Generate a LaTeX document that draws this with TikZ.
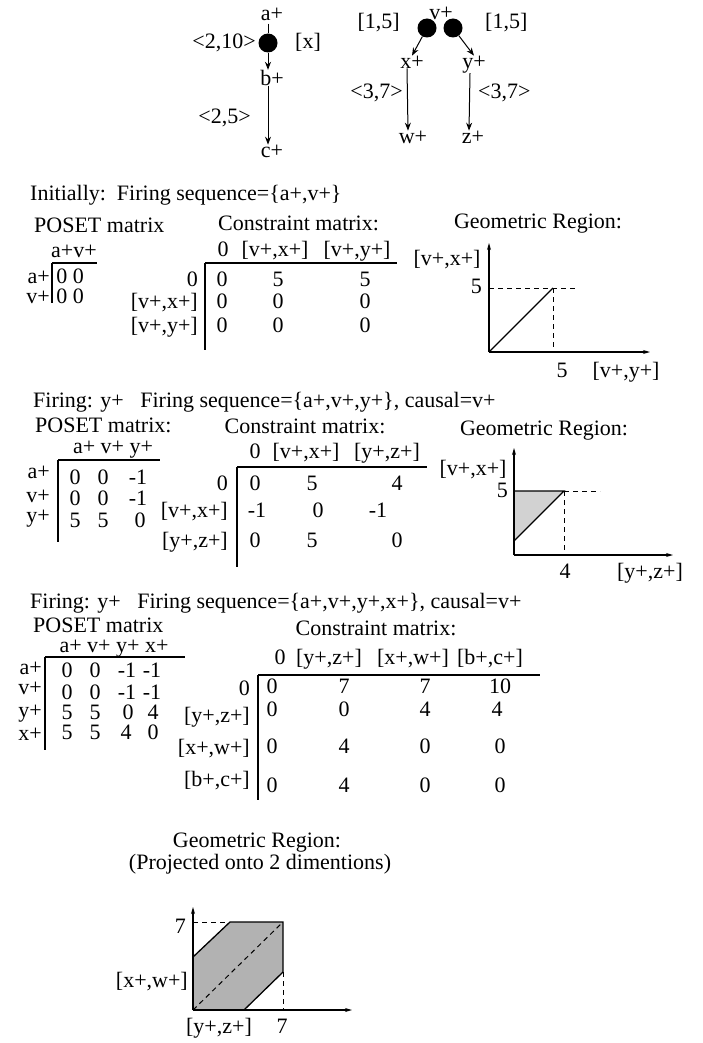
\documentclass[tikz,border=0pt]{standalone}
\usepackage{fontspec}
\setmainfont{Liberation Serif}
\usetikzlibrary{arrows.meta,positioning}
\newcommand{\regFont}{\fontsize{22}{24}\selectfont}
\tikzset{
  regText/.style={
    inner sep=0pt,
    anchor=mid,
    yshift=-3pt,
    font=\regFont
  },
  regTextW/.style={regText, anchor=mid west},
  regTextE/.style={regText, anchor=mid east},
  regDot/.style={
    circle,
    fill=black,
    minimum size=19pt,
    inner sep=0pt
  },
  regArrow/.style={
    -{Stealth[length=8pt,width=6pt]},
    line width=1pt
  },
  regRule/.style={line width=1.3pt},
  regAxis/.style={
    -{Stealth[length=7pt,width=4pt]},
    line width=1.5pt
  },
  regGuide/.style={line width=1pt, dash pattern=on 5pt off 4pt},
  regEdge/.style={line width=1.3pt},
  regShade/.style={fill=gray!35},
  regShadeDark/.style={fill=gray!60}
}

\begin{document}
\begin{tikzpicture}[x=1pt, y=-1pt]
  \useasboundingbox (0,0) rectangle (702,1043);

  % timed event graph
  \node[regText] (aPlus) at (272,15) {a+};
  \node[regDot] (aDot) at (268,43) {};
  \node[regText] (bPlus) at (272,80) {b+};
  \node[regText] (cPlus) at (272,152) {c+};
  \node[regTextE] (aDelay) at (256,43) {<2,10>};
  \node[regTextW] (aCond) at (295,43) {[x]};
  \node[regTextE] (bDelay) at (251,118) {<2,5>};

  \draw[line width=1pt, shorten <=3pt] (aPlus.south -| aDot) -- (aDot);
  \draw[regArrow] (aDot) -- (aDot |- bPlus.north);
  \draw[regArrow] (aDot |- bPlus.south) -- (aDot |- cPlus.north);

  \node[regText] (vPlus) at (441,14) {v+};
  \node[regDot] (vDotL) at (427,28) {};
  \node[regDot] (vDotR) at (453,28) {};
  \node[regText] (xPlus) at (412,63) {x+};
  \node[regText] (yPlus) at (474,63) {y+};
  \node[regText] (wPlus) at (413,138) {w+};
  \node[regText] (zPlus) at (473,138) {z+};
  \node[regTextE] (xBound) at (400,23) {[1,5]};
  \node[regTextW] (yBound) at (485,23) {[1,5]};
  \node[regTextE] (wDelay) at (403,93) {<3,7>};
  \node[regTextW] (zDelay) at (478,93) {<3,7>};

  \draw[regArrow] (vDotL) -- (xPlus.north);
  \draw[regArrow] (vDotR) -- (yPlus.north);
  \draw[regArrow] ([xshift=-5pt]xPlus.south) -- ([xshift=-5pt]wPlus.north);
  \draw[regArrow] ([xshift=-4pt]yPlus.south) -- ([xshift=-4pt]zPlus.north);

  % initial state
  \node[regTextW] (initLine) at (30,195) {Initially:\ \ Firing sequence=\{a+,v+\}};
  \node[regTextW] (posetA) at (34,227) {POSET matrix};
  \node[regTextW] (consA) at (218,225) {Constraint matrix:};
  \node[regText] (geoA) at (538,223) {Geometric Region:};

  \node[regText] (posetAHead) at (74,252) {a+v+};
  \draw[regRule] (52,263) -- (97,263);
  \draw[regRule] (52,263) -- (52,303);
  \node[regTextE] (posetARa) at (50,278) {a+};
  \node[regTextE] (posetARv) at (50,298) {v+};
  \node[regText] (posetAEa) at (70,278) {0 0};
  \node[regText] (posetAEv) at (70,298) {0 0};

  \foreach \x/\t [count=\k] in {223/0,275/{[v+,x+]},357/{[v+,y+]}}
    \node[regText] (consAH\k) at (\x,251) {\t};
  \draw[regRule] (205,263) -- (397,263);
  \draw[regRule] (205,263) -- (205,350);
  \foreach \y/\t [count=\k] in {281/0,303/{[v+,x+]},327/{[v+,y+]}}
    \node[regTextE] (consAR\k) at (198,\y) {\t};
  \foreach \x/\y/\v [count=\k] in {222/281/0,278/281/5,365/281/5,
                                   222/303/0,278/303/0,365/303/0,
                                   222/327/0,278/327/0,365/327/0}
    \node[regText] (consAE\k) at (\x,\y) {\v};

  \draw[regAxis] (489,352) -- (489,243);
  \draw[regAxis] (489,352) -- (650,352);
  \node[regText] (geoAY) at (447,260) {[v+,x+]};
  \node[regTextE] (geoAYv) at (482,288) {5};
  \draw[regGuide] (489,288) -- (578,288);
  \draw[regGuide] (553,288) -- (553,352);
  \draw[regEdge] (489,352) -- (553,288);
  \node[regText] (geoAXv) at (562,372) {5};
  \node[regText] (geoAX) at (626,372) {[v+,y+]};

  % after firing y+
  \node[regTextW] (fireB) at (33,402) {Firing: y+\ \ \ Firing sequence=\{a+,v+,y+\}, causal=v+};
  \node[regTextW] (posetB) at (35,427) {POSET matrix:};
  \node[regText] (consB) at (305,428) {Constraint matrix:};
  \node[regText] (geoB) at (544,430) {Geometric Region:};

  \node[regText] (posetBHead) at (113,448) {a+ v+ y+};
  \draw[regRule] (58,460) -- (160,460);
  \draw[regRule] (58,460) -- (58,542);
  \foreach \y/\t [count=\k] in {473/a+,497/v+,517/y+}
    \node[regTextE] (posetBR\k) at (50,\y) {\t};
  \foreach \x/\y/\v [count=\k] in {75/479/0,103/479/0,138/479/-1,
                                   75/500/0,103/500/0,138/500/-1,
                                   75/522/5,103/522/5,140/522/0}
    \node[regText] (posetBE\k) at (\x,\y) {\v};

  \foreach \x/\t [count=\k] in {255/0,306/{[v+,x+]},387/{[y+,z+]}}
    \node[regText] (consBH\k) at (\x,453) {\t};
  \draw[regRule] (237,467) -- (427,467);
  \draw[regRule] (237,467) -- (237,567);
  \foreach \y/\t [count=\k] in {485/0,512/{[v+,x+]},542/{[y+,z+]}}
    \node[regTextE] (consBR\k) at (228,\y) {\t};
  \foreach \x/\y/\v [count=\k] in {255/485/0,312/485/5,397/485/4,
                                   257/512/-1,318/512/0,378/512/-1,
                                   255/542/0,312/542/5,397/542/0}
    \node[regText] (consBE\k) at (\x,\y) {\v};

  \fill[regShade] (514,491) -- (564,491) -- (514,541) -- cycle;
  \draw[regAxis] (514,555) -- (514,448);
  \draw[regAxis] (514,555) -- (673,555);
  \node[regText] (geoBY) at (473,470) {[v+,x+]};
  \node[regTextE] (geoBYv) at (508,492) {5};
  \draw[regEdge] (514,491) -- (564,491) -- (514,541);
  \draw[regGuide] (564,491) -- (600,491);
  \draw[regGuide] (564,491) -- (564,555);
  \node[regText] (geoBXv) at (565,573) {4};
  \node[regText] (geoBX) at (650,573) {[y+,z+]};

  % after firing x+
  \node[regTextW] (fireC) at (30,603) {Firing: y+\ \ \ Firing sequence=\{a+,v+,y+,x+\}, causal=v+};
  \node[regTextW] (posetC) at (33,627) {POSET matrix};
  \node[regText] (consC) at (376,630) {Constraint matrix:};

  \node[regText] (posetCHead) at (114,647) {a+ v+ y+ x+};
  \draw[regRule] (45,657) -- (185,657);
  \draw[regRule] (45,657) -- (45,750);
  \foreach \y/\t [count=\k] in {669/a+,689/v+,712/y+,735/x+}
    \node[regTextE] (posetCR\k) at (42,\y) {\t};
  \foreach \x/\y/\v [count=\k] in {67/672/0,95/672/0,127/672/-1,152/672/-1,
                                   67/694/0,95/694/0,127/694/-1,152/694/-1,
                                   67/714/5,95/714/5,128/714/0,153/714/4,
                                   67/734/5,95/734/5,126/734/4,153/734/0}
    \node[regText] (posetCE\k) at (\x,\y) {\v};

  \foreach \x/\t [count=\k] in {280/0,329/{[y+,z+]},413/{[x+,w+]},490/{[b+,c+]}}
    \node[regText] (consCH\k) at (\x,659) {\t};
  \draw[regRule] (258,675) -- (540,675);
  \draw[regRule] (258,675) -- (258,800);
  \foreach \y/\t [count=\k] in {690/0,717/{[y+,z+]},749/{[x+,w+]},781/{[b+,c+]}}
    \node[regTextE] (consCR\k) at (250,\y) {\t};
  \foreach \x/\y/\v [count=\k] in {272/688/0,344/688/7,425/688/7,500/688/10,
                                   272/711/0,344/711/0,425/711/4,497/711/4,
                                   272/748/0,344/748/4,425/748/0,500/748/0,
                                   272/787/0,344/787/4,425/787/0,500/787/0}
    \node[regText] (consCE\k) at (\x,\y) {\v};

  % projected region
  \node[regText] (geoC) at (257,842) {Geometric Region:};
  \node[regText] (geoCNote) at (260,864) {(Projected onto 2 dimentions)};

  \fill[regShadeDark] (193,1010) -- (193,957) -- (230,922) -- (283,922)
    -- (283,972) -- (244,1010) -- cycle;
  \draw[regEdge] (193,957) -- (230,922) -- (283,922) -- (283,972) -- (244,1010);
  \draw[regAxis] (193,1010) -- (193,907);
  \draw[regAxis] (193,1010) -- (352,1010);
  \draw[regGuide] (193,922) -- (230,922);
  \draw[regGuide] (283,972) -- (283,1010);
  \draw[regGuide] (193,1010) -- (283,922);
  \node[regTextE] (geoCYv) at (186,928) {7};
  \node[regTextE] (geoCY) at (188,982) {[x+,w+]};
  \node[regText] (geoCX) at (219,1028) {[y+,z+]};
  \node[regText] (geoCXv) at (282,1028) {7};
\end{tikzpicture}
\end{document}
